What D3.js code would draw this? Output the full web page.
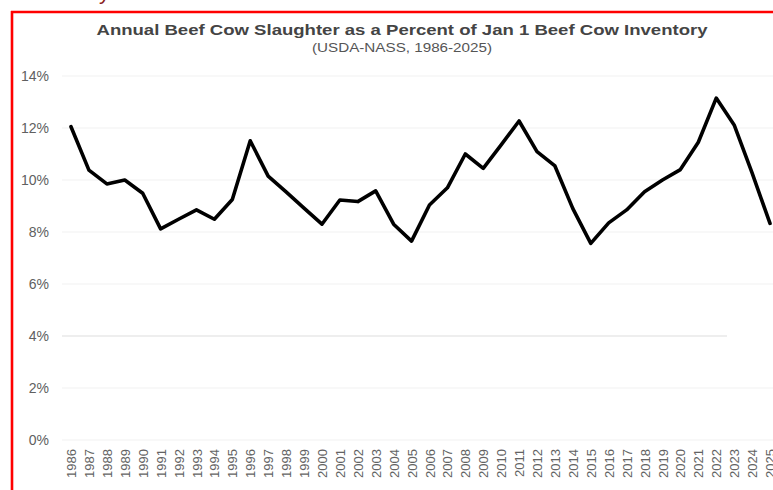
<!DOCTYPE html>
<html>
<head>
<meta charset="utf-8">
<script src="https://cdn.jsdelivr.net/npm/d3@7"></script>
<style>
  html, body { margin: 0; padding: 0; background: #ffffff; }
  svg { display: block; }
</style>
</head>
<body>
<svg id="chart" width="773" height="490"></svg>
<script>
const years = [1986,1987,1988,1989,1990,1991,1992,1993,1994,1995,1996,1997,1998,1999,2000,
  2001,2002,2003,2004,2005,2006,2007,2008,2009,2010,2011,2012,2013,2014,2015,2016,2017,2018,
  2019,2020,2021,2022,2023,2024,2025];
const slaughterPct = [12.05,10.38,9.85,10.0,9.49,8.12,8.49,8.85,8.49,9.25,11.51,10.15,9.54,8.92,8.3,
  9.23,9.17,9.58,8.3,7.65,9.04,9.7,11.0,10.45,11.35,12.27,11.09,10.54,8.9,7.56,8.35,8.85,9.55,
  10.0,10.4,11.45,13.15,12.12,10.27,8.33];
const yTicks = [0,2,4,6,8,10,12,14];
const titleText = "Annual Beef Cow Slaughter as a Percent of Jan 1 Beef Cow Inventory";
const subtitleText = "(USDA-NASS, 1986-2025)";

const svg = d3.select("#chart");
const font = "'Liberation Sans', Arial, sans-serif";

svg.append("rect").attr("width", 773).attr("height", 490).attr("fill", "#ffffff");

// clipped fragment of text above the frame
svg.append("text").attr("x", 99).attr("y", -1).attr("font-family", font)
  .attr("font-size", 22).attr("fill", "#8a1c1c").text("y");

const x = d3.scalePoint().domain(years).range([71, 770]);
const y = d3.scaleLinear().domain([0, 14]).range([440, 76]);

// gridlines
svg.append("g").selectAll("line").data(yTicks).join("line")
  .attr("x1", 62).attr("x2", d => d === 4 ? 727 : 773)
  .attr("y1", d => y(d)).attr("y2", d => y(d))
  .attr("stroke", d => d === 4 ? "#dedede" : "#f1f1f1").attr("stroke-width", 1.2);

// y axis
const yAxis = svg.append("g").attr("transform", "translate(49,0)")
  .call(d3.axisLeft(y).tickValues(yTicks).tickFormat(d => d + "%").tickSize(0).tickPadding(0));
yAxis.select(".domain").remove();
yAxis.selectAll("text").attr("font-family", font).attr("font-size", 14)
  .attr("fill", "#606060").attr("text-anchor", "end");

// x axis
const xAxis = svg.append("g").attr("transform", "translate(0,440)")
  .call(d3.axisBottom(x).tickSize(0).tickFormat(d => String(d)));
xAxis.select(".domain").remove();
xAxis.selectAll("text")
  .attr("font-family", font).attr("font-size", 13).attr("fill", "#636363")
  .attr("transform", "rotate(-90)")
  .attr("text-anchor", "end")
  .attr("x", -9).attr("y", 0).attr("dy", "0.35em");

// line
const line = d3.line().x((d, i) => x(years[i])).y(d => y(d));
svg.append("path").datum(slaughterPct)
  .attr("d", line).attr("fill", "none").attr("stroke", "#000000")
  .attr("stroke-width", 3.6).attr("stroke-linejoin", "round").attr("stroke-linecap", "round");

// titles
svg.append("text").attr("x", 402).attr("y", 35).attr("text-anchor", "middle")
  .attr("font-family", font).attr("font-weight", "bold").attr("font-size", 15)
  .attr("fill", "#444444").attr("textLength", 611).attr("lengthAdjust", "spacingAndGlyphs")
  .text(titleText);
svg.append("text").attr("x", 402).attr("y", 52).attr("text-anchor", "middle")
  .attr("font-family", font).attr("font-size", 12.5).attr("fill", "#555555")
  .attr("textLength", 180).attr("lengthAdjust", "spacingAndGlyphs")
  .text(subtitleText);

// red frame
svg.append("line").attr("x1", 12).attr("x2", 12).attr("y1", 11).attr("y2", 490)
  .attr("stroke", "#ff0000").attr("stroke-width", 2.6);
svg.append("line").attr("x1", 11).attr("x2", 773).attr("y1", 12).attr("y2", 12)
  .attr("stroke", "#ff0000").attr("stroke-width", 2.6);
</script>
</body>
</html>
